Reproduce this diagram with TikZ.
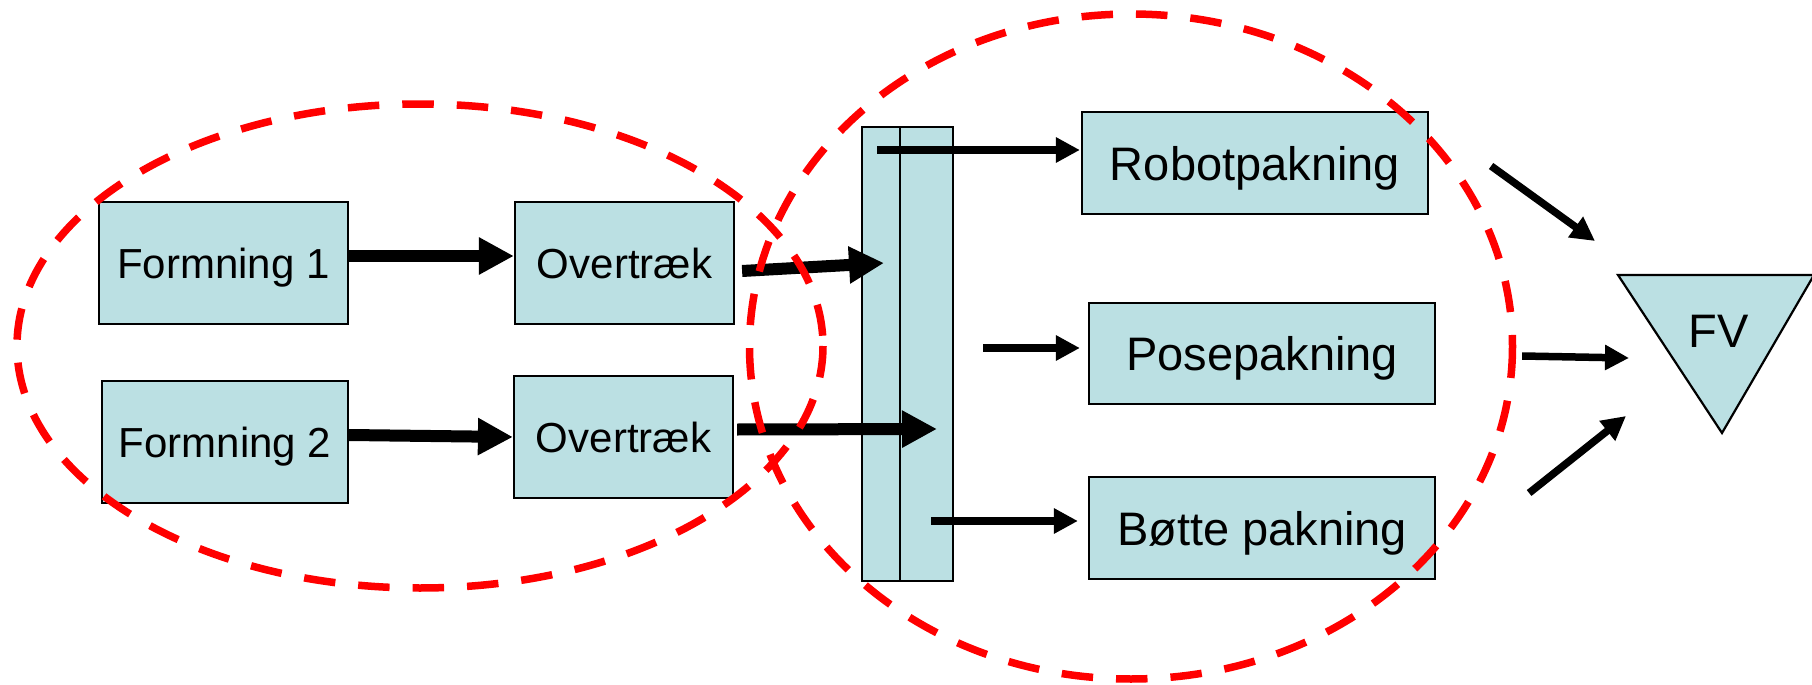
\documentclass[tikz,border=0pt]{standalone}
\usepackage{fontspec}
\setmainfont{Liberation Sans}
\usetikzlibrary{arrows.meta}
\definecolor{boxfill}{RGB}{187,224,227}
\definecolor{ringred}{RGB}{255,0,0}
\begin{document}
\begin{tikzpicture}[x=0.5pt,y=-0.5pt,
  stage/.style={draw=black,line width=1.1pt,fill=boxfill,inner sep=0pt,
    text depth=0pt,minimum height=61pt},
  lefttext/.style={font=\fontsize{21}{25}\selectfont},
  righttext/.style={font=\fontsize{23.5}{28}\selectfont},
  heavyflow/.style={line width=6pt,-{Triangle[length=17.5pt,width=17.5pt]}},
  lightflow/.style={line width=3.75pt,-{Triangle[length=12pt,width=12pt]}},
  groupring/.style={draw=ringred,line width=3.75pt,dash pattern=on 15.75pt off 11.5pt}
]
\useasboundingbox (0,0) rectangle (1812,685);

% forming and coating lines
\node[stage,lefttext,minimum width=124.5pt] (f1) at (223.5,263) {Formning 1};
\node[stage,lefttext,minimum width=109.5pt] (o1) at (624.5,263) {Overtræk};
\node[stage,lefttext,minimum width=123pt]   (f2) at (225,442)   {Formning 2};
\node[stage,lefttext,minimum width=109.5pt] (o2) at (623.5,437) {Overtræk};

% distribution column (two lanes)
\node[stage,minimum width=19pt,minimum height=227pt]   (colA) at (881,354)   {};
\node[stage,minimum width=26.5pt,minimum height=227pt] (colB) at (926.5,354) {};

% packing stations
\node[stage,righttext,minimum width=173pt,minimum height=51pt]   (robot)  at (1255,163)   {Robotpakning};
\node[stage,righttext,minimum width=173pt,minimum height=50.5pt] (pose)   at (1262,353.5) {Posepakning};
\node[stage,righttext,minimum width=173pt,minimum height=51pt]   (bucket) at (1262,528)   {Bøtte pakning};

% finished goods store
\coordinate (fvTL) at (1618,275);
\coordinate (fvTR) at (1814,275);
\coordinate (fvB)  at (1722,433);
\draw[line width=1.1pt,fill=boxfill] (fvTL) -- (fvTR) -- (fvB) -- cycle;
\node[righttext,inner sep=0pt,text depth=0pt] (fv) at (1719,331.5) {FV};

% arrow ends that lie inside the column or in free space
\coordinate (inA)  at (884,263);
\coordinate (inB)  at (937,429);
\coordinate (outA) at (877,150);
\coordinate (outB) at (983,348);
\coordinate (outC) at (931,521);
\coordinate (fvinA) at (1595,241);
\coordinate (fvinB) at (1629,358);
\coordinate (fvinC) at (1626,416);

% flows
\draw[heavyflow] ([yshift=3.5pt]f1.east) -- ([yshift=3.5pt]o1.west);
\draw[heavyflow] ([yshift=3.5pt]f2.east) -- (o2.west);
\draw[heavyflow] ([xshift=3.5pt,yshift=-4pt]o1.east) -- (inA);
\draw[heavyflow] ([xshift=1.5pt,yshift=3.75pt]o2.east) -- (inB);

\draw[lightflow] (outA) -- ([xshift=-0.5pt,yshift=6.5pt]robot.west);
\draw[lightflow] (outB) -- ([xshift=-4pt,yshift=2.75pt]pose.west);
\draw[lightflow] (outC) -- ([xshift=-5pt,yshift=3.5pt]bucket.west);

\draw[lightflow] ([xshift=31pt,yshift=-1.5pt]robot.east) -- (fvinA);
\draw[lightflow] ([xshift=43pt,yshift=-1.25pt]pose.east) -- (fvinB);
\draw[lightflow] ([xshift=46.5pt,yshift=17.5pt]bucket.east) -- (fvinC);

% grouping rings
\draw[groupring] (420,346) ellipse [x radius=403, y radius=242];
\draw[groupring] (1131,346.5) ellipse [x radius=381.5, y radius=332.5];
\end{tikzpicture}
\end{document}
